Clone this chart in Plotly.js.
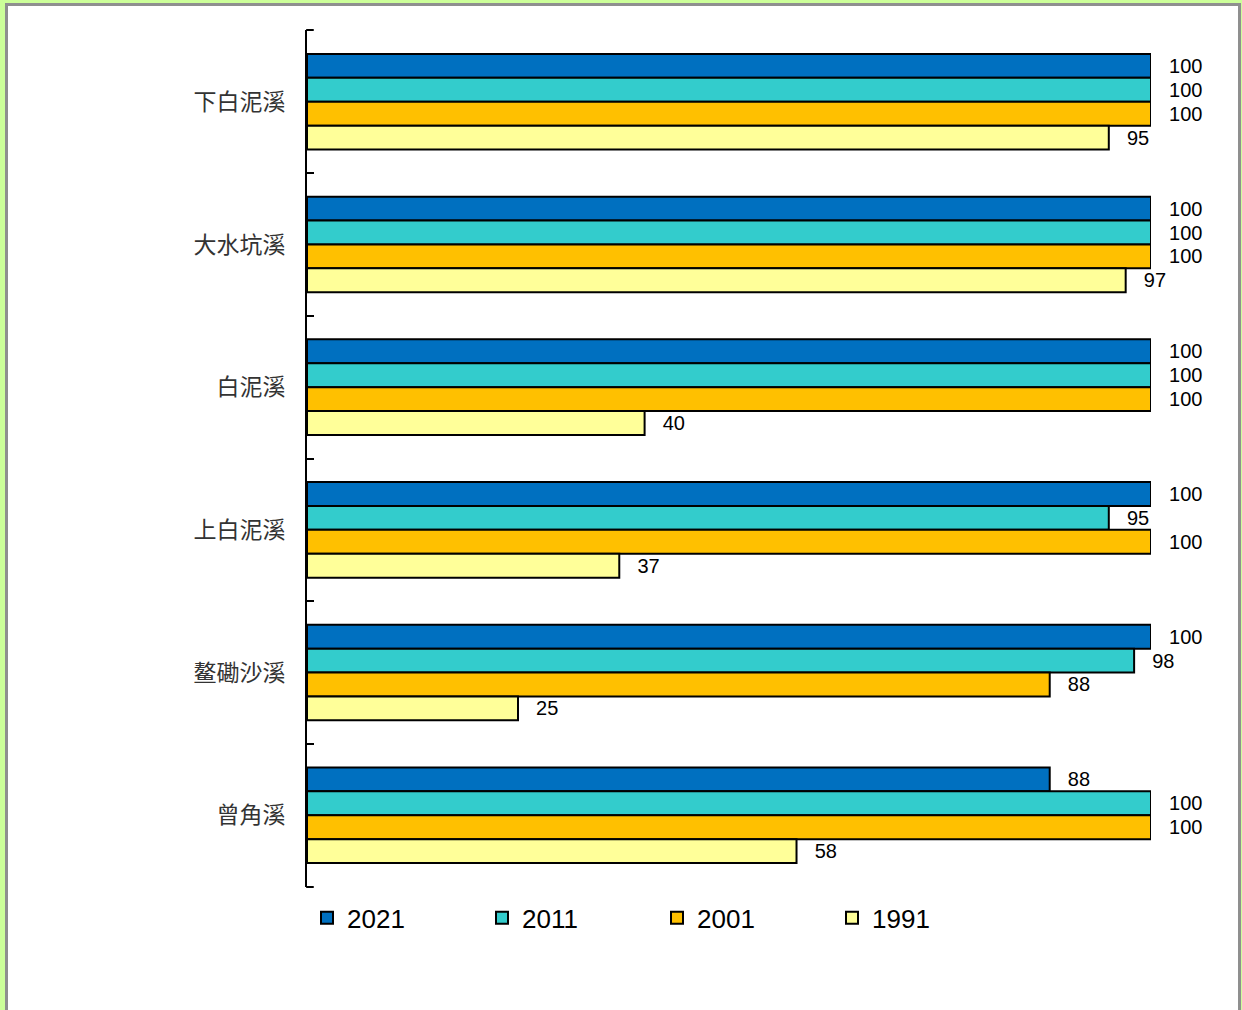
<!DOCTYPE html>
<html>
<head>
<meta charset="utf-8">
<script src="https://cdn.plot.ly/plotly-3.0.1.min.js"></script>
<style>
  html, body { margin: 0; padding: 0; }
  body { width: 1242px; height: 1010px; background: #ccff99; position: relative; overflow: hidden; }
  #frame { position: absolute; left: 5px; top: 3px; width: 1230px; height: 1020px; background: #ffffff; border: 3px solid #8f8f8f; box-sizing: content-box; }
  #chart { position: absolute; left: 0; top: 0; width: 1242px; height: 1010px; }
</style>
</head>
<body>
<div id="frame"></div>
<div id="chart"></div>
<script>
const categories = ['下白泥溪', '大水坑溪', '白泥溪', '上白泥溪', '鳌磡沙溪', '曾角溪'];
const seriesNames = ['2021', '2011', '2001', '1991'];
const v2021 = [100, 100, 100, 100, 100, 88];
const v2011 = [100, 100, 100, 95, 98, 100];
const v2001 = [100, 100, 100, 100, 88, 100];
const v1991 = [95, 97, 40, 37, 25, 58];
const colors = ['#0070C0', '#33CCCC', '#FFC000', '#FFFF99'];

const values = [v2021, v2011, v2001, v1991];
const traces = values.map((vals, i) => ({
  type: 'bar',
  orientation: 'h',
  name: seriesNames[i],
  y: categories,
  x: vals,
  marker: { color: colors[i], line: { color: '#000000', width: 2 } },
  text: vals.map(v => String(v)),
  texttemplate: '\u00a0\u00a0\u2009%{text}',
  textposition: 'outside',
  constraintext: 'none',
  cliponaxis: false,
  textfont: { family: 'Liberation Sans, Arial, sans-serif', size: 20, color: '#000000' },
  hoverinfo: 'none'
}));

const layout = {
  width: 1242,
  height: 1010,
  paper_bgcolor: 'rgba(0,0,0,0)',
  plot_bgcolor: 'rgba(0,0,0,0)',
  margin: { l: 307, r: 91, t: 30, b: 123, pad: 0 },
  barmode: 'group',
  bargap: 0.33,
  bargroupgap: 0,
  showlegend: true,
  xaxis: {
    range: [0, 100],
    visible: false,
    fixedrange: true
  },
  yaxis: {
    type: 'category',
    range: [5.503, -0.503],
    autorange: false,
    showline: true,
    linecolor: '#000000',
    linewidth: 2,
    ticks: 'inside',
    tickson: 'boundaries',
    ticklen: 7,
    tickwidth: 2,
    tickcolor: '#000000',
    showgrid: false,
    zeroline: false,
    ticklabelstandoff: 15,
    tickfont: { family: 'Noto Sans CJK TC, Noto Sans CJK SC, sans-serif', size: 23, color: '#333333' },
    fixedrange: true
  },
  shapes: [
    { type: 'line', xref: 'paper', yref: 'paper', x0: -0.001, x1: 0.008, y0: 1, y1: 1, line: { color: '#000000', width: 2 } },
    { type: 'line', xref: 'paper', yref: 'paper', x0: -0.001, x1: 0.008, y0: 0, y1: 0, line: { color: '#000000', width: 2 } }
  ],
  legend: {
    orientation: 'h',
    x: 0,
    xanchor: 'left',
    y: -0.036,
    yanchor: 'middle',
    traceorder: 'normal',
    entrywidth: 130,
    entrywidthmode: 'pixels',
    itemwidth: 30,
    font: { family: 'Liberation Sans, Arial, sans-serif', size: 26, color: '#000000' },
    bgcolor: 'rgba(0,0,0,0)'
  }
};

Plotly.newPlot('chart', traces, layout, { displayModeBar: false, staticPlot: true });
</script>
</body>
</html>
